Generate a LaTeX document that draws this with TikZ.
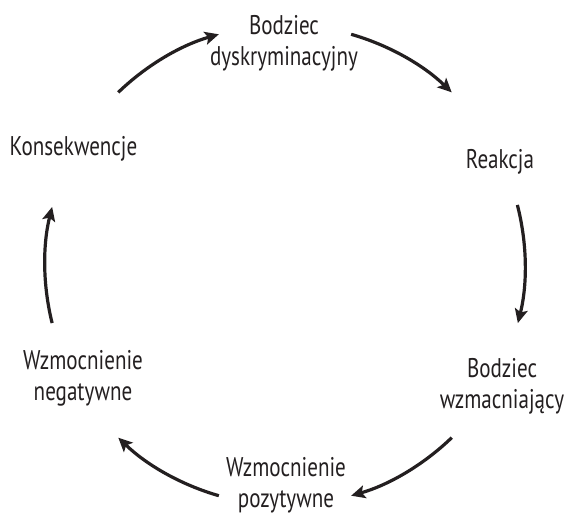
\documentclass[tikz,border=0pt]{standalone}
\usepackage{fontspec}
\setmainfont[FakeStretch=0.78]{PT Sans}
\usetikzlibrary{arrows.meta,calc}
\definecolor{ink}{HTML}{231F20}
\begin{document}
\begin{tikzpicture}[x=1pt,y=1pt,
  lab/.style={align=center,anchor=base,inner sep=0pt,text=ink,font=\fontsize{27}{31}\selectfont},
  arr/.style={draw=ink,line width=3.2pt,-{Stealth[length=14pt,width=13pt,inset=3pt]}}]
\useasboundingbox (0,0) rectangle (564,-514);
\coordinate (c) at (285,-265);
\node[lab] (bd) at (284,-65) {Bodziec\\dyskryminacyjny};
\node[lab] (re) at (500,-168) {Reakcja};
\node[lab] (bw) at (502,-408) {Bodziec\\wzmacniający};
\node[lab] (wp) at (286,-507) {Wzmocnienie\\pozytywne};
\node[lab] (wn) at (83,-400) {Wzmocnienie\\negatywne};
\node[lab] (ko) at (73.5,-155) {Konsekwencje};
\coordinate (s1) at ($(c)+(134:240)$);
\coordinate (s2) at ($(c)+(74:240)$);
\coordinate (s3) at ($(c)+(14.5:240)$);
\coordinate (s4) at ($(c)+(-46:240)$);
\coordinate (s5) at ($(c)+(-106:240)$);
\coordinate (s6) at ($(c)+(194:240)$);
\draw[arr] (s1) arc[start angle=134,end angle=106,radius=240];
\draw[arr] (s2) arc[start angle=74,end angle=46,radius=240];
\draw[arr] (s3) arc[start angle=14.5,end angle=-14,radius=240];
\draw[arr] (s4) arc[start angle=-46,end angle=-74,radius=240];
\draw[arr] (s5) arc[start angle=-106,end angle=-134,radius=240];
\draw[arr] (s6) arc[start angle=194,end angle=166,radius=240];
\end{tikzpicture}
\end{document}
